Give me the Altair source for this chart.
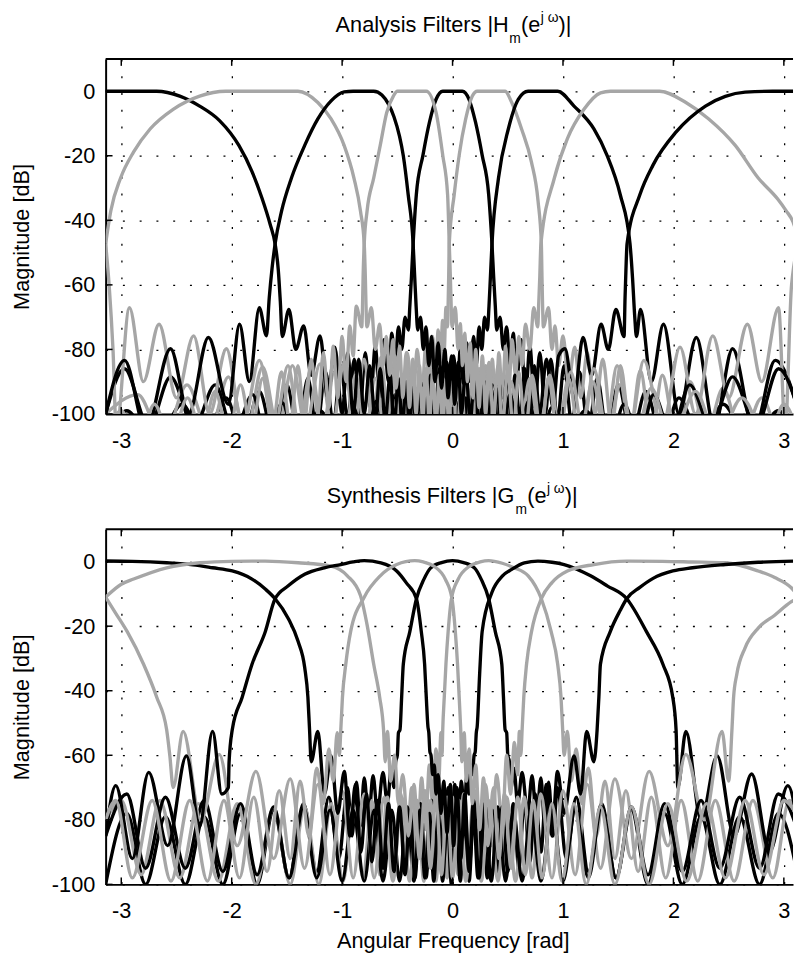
import altair as alt
import pandas as pd

FONT = "Liberation Sans"
INK = "#000000"
GREY = "#a6a6a6"

X_TICKS = [-3, -2, -1, 0, 1, 2, 3]
Y_TICKS = [-100, -80, -60, -40, -20, 0]
X_DOMAIN = [-3.1416, 3.083]
Y_DOMAIN = [-100, 10]

TITLE_TOP = ["Analysis Filters |H", "m", "(e", "j \u03c9", ")|"]
TITLE_BOTTOM = ["Synthesis Filters |G", "m", "(e", "j \u03c9", ")|"]
Y_TITLE = "Magnitude [dB]"
X_TITLE = "Angular Frequency [rad]"

# ---------------- Analysis filters (x in rad, magnitude in dB) ----------------
A0 = [(-3.1416,-110),(-2.95,-99),(-2.7,-110),(-2.45,-97),(-2.25,-108),(-2.05,-95),(-1.9,-108),(-1.75,-93),(-1.62,-107),(-1.50,-91),(-1.40,-106),(-1.31,-89),(-1.23,-105),(-1.15,-87),(-1.08,-103),(-1.01,-85),(-0.95,-102),(-0.89,-83),(-0.84,-100),(-0.79,-81),(-0.745,-98),(-0.70,-79),(-0.66,-95),(-0.62,-77),(-0.58,-90),(-0.55,-75),(-0.52,-85),(-0.49,-73),(-0.46,-80),(-0.43,-70),(-0.40,-74),(-0.387,-66.6),(-0.372,-57.4),(-0.357,-47.3),(-0.328,-32),(-0.268,-19.8),(-0.209,-9.6),(-0.149,-2.5),(-0.089,0),(0.089,0),(0.149,-2.5),(0.208,-9.6),(0.268,-19.8),(0.327,-32),(0.357,-47.3),(0.372,-57.4),(0.387,-66.6),(0.40,-74),(0.43,-70),(0.46,-80),(0.49,-73),(0.52,-85),(0.55,-75),(0.58,-90),(0.62,-77),(0.66,-95),(0.70,-79),(0.745,-98),(0.79,-81),(0.84,-100),(0.89,-83),(0.95,-102),(1.01,-85),(1.08,-103),(1.15,-87),(1.23,-105),(1.31,-89),(1.40,-106),(1.50,-91),(1.62,-107),(1.75,-93),(1.9,-108),(2.05,-95),(2.25,-108),(2.45,-97),(2.7,-110),(2.95,-99),(3.1416,-110)]
A1 = [(-3.1416,-100),(-2.85,-94),(-2.62,-108),(-2.405,-91),(-2.2,-106),(-2.03,-88.5),(-1.87,-106),(-1.72,-85.4),(-1.58,-105),(-1.45,-85),(-1.33,-104),(-1.2,-84.5),(-1.09,-104),(-0.98,-84),(-0.89,-104),(-0.80,-83),(-0.72,-103),(-0.65,-82.5),(-0.58,-102),(-0.52,-82),(-0.46,-100),(-0.41,-81),(-0.36,-98),(-0.32,-80),(-0.28,-95),(-0.24,-78),(-0.21,-92),(-0.18,-76),(-0.155,-88),(-0.13,-74),(-0.11,-84),(-0.09,-71),(-0.075,-80),(-0.06,-67),(-0.045,-73),(-0.04,-66),(-0.035,-57.4),(-0.03,-47.3),(0.015,-32),(0.06,-19.8),(0.119,-8.6),(0.179,-1.5),(0.223,0),(0.476,0),(0.536,-3.5),(0.625,-11.7),(0.714,-21.9),(0.774,-34),(0.804,-47.3),(0.81,-58),(0.815,-66),(0.822,-73),(0.869,-67.1),(0.90,-80),(0.928,-72.7),(0.96,-85),(1.0,-75.8),(1.05,-90),(1.107,-79.3),(1.16,-95),(1.22,-81),(1.29,-100),(1.36,-83),(1.44,-104),(1.52,-85),(1.61,-105),(1.70,-86.5),(1.8,-106),(1.90,-88),(2.02,-106),(2.15,-90),(2.3,-106),(2.45,-92),(2.62,-108),(2.8,-95),(2.98,-108),(3.1416,-100)]
A2 = [(-3.1416,-100),(-2.97,-86),(-2.75,-104),(-2.554,-88.5),(-2.34,-104),(-2.15,-91),(-1.98,-106),(-1.81,-94),(-1.69,-108),(-1.54,-96.6),(-1.42,-110),(-1.2,-99),(-1.0,-112),(-0.9,-98),(-0.79,-110),(-0.69,-96),(-0.6,-108),(-0.52,-94),(-0.455,-106),(-0.395,-92),(-0.34,-105),(-0.29,-90),(-0.245,-104),(-0.2,-88),(-0.16,-102),(-0.12,-86),(-0.08,-100),(-0.05,-84),(-0.02,-97),(0.01,-82),(0.04,-95),(0.07,-80),(0.10,-92),(0.13,-78),(0.16,-90),(0.19,-76),(0.215,-85),(0.24,-73),(0.265,-80),(0.29,-70),(0.315,-74),(0.33,-66.6),(0.343,-57.4),(0.357,-47.3),(0.416,-26.9),(0.505,-11.7),(0.595,-2.5),(0.684,0),(0.952,0),(1.10,-4.6),(1.28,-11.7),(1.398,-19.8),(1.518,-32),(1.607,-47.3),(1.63,-58),(1.65,-70),(1.665,-76),(1.702,-67.6),(1.80,-90),(1.91,-72.2),(2.05,-100),(2.208,-76.3),(2.37,-104),(2.536,-79.8),(2.73,-105),(2.922,-83.4),(3.1416,-100)]
A3 = [(-3.1416,-47.3),(-3.11,-60),(-3.075,-80),(-3.045,-105),(-2.926,-67.1),(-2.80,-90),(-2.658,-72.2),(-2.50,-95),(-2.345,-75.8),(-2.20,-100),(-2.048,-79.8),(-1.90,-104),(-1.75,-83.4),(-1.61,-104),(-1.49,-85),(-1.39,-104),(-1.28,-86),(-1.18,-105),(-1.07,-87),(-0.97,-106),(-0.88,-88),(-0.79,-106),(-0.70,-89),(-0.61,-106),(-0.53,-90),(-0.46,-108),(-0.39,-91),(-0.33,-108),(-0.27,-92),(-0.22,-108),(-0.17,-92),(-0.12,-108),(-0.08,-91),(-0.04,-107),(0.0,-90),(0.03,-106),(0.06,-89),(0.09,-105),(0.12,-88),(0.15,-104),(0.18,-87),(0.21,-103),(0.24,-86),(0.27,-102),(0.30,-85),(0.33,-100),(0.36,-83),(0.39,-98),(0.42,-81),(0.45,-95),(0.48,-79),(0.51,-92),(0.54,-77),(0.57,-88),(0.60,-76),(0.63,-85),(0.66,-72.2),(0.70,-80),(0.735,-67.1),(0.772,-73),(0.78,-66),(0.79,-57.4),(0.80,-47.3),(0.922,-26.9),(1.04,-14.7),(1.19,-5.6),(1.34,-0.5),(1.43,0),(1.875,0),(2.113,-3.5),(2.32,-8.6),(2.56,-16.8),(2.768,-26.9),(2.946,-33.5),(3.02,-37),(3.083,-40.5),(3.1416,-47.3)]
A4 = [(-3.1416,0),(-2.9,0),(-2.68,0),(-2.47,-1.5),(-2.29,-4.6),(-2.11,-9.1),(-1.935,-16.8),(-1.816,-24.9),(-1.727,-33.0),(-1.652,-41.2),(-1.607,-47.3),(-1.578,-55.4),(-1.56,-65),(-1.542,-76),(-1.482,-67.6),(-1.42,-80),(-1.348,-72.7),(-1.28,-88),(-1.20,-75.8),(-1.13,-95),(-1.066,-79.3),(-1.0,-100),(-0.95,-81),(-0.90,-100),(-0.85,-83),(-0.80,-100),(-0.75,-85),(-0.70,-102),(-0.655,-86),(-0.61,-102),(-0.565,-88),(-0.53,-104),(-0.49,-89),(-0.455,-104),(-0.42,-90),(-0.39,-105),(-0.36,-91),(-0.33,-105),(-0.30,-92),(-0.27,-106),(-0.24,-93),(-0.21,-106),(-0.18,-94),(-0.15,-107),(-0.12,-95),(-0.09,-108),(-0.06,-96),(-0.03,-108),(0.0,-97),(0.03,-108),(0.06,-96),(0.09,-108),(0.12,-95),(0.15,-107),(0.18,-94),(0.21,-106),(0.24,-93),(0.27,-106),(0.30,-92),(0.33,-105),(0.36,-91),(0.39,-105),(0.42,-90),(0.455,-104),(0.49,-89),(0.53,-104),(0.565,-88),(0.61,-102),(0.655,-86),(0.70,-102),(0.74,-85),(0.79,-100),(0.85,-83),(0.91,-98),(0.96,-82),(1.018,-79.8),(1.10,-95),(1.181,-76.3),(1.26,-88),(1.345,-72.2),(1.41,-80),(1.479,-67.6),(1.553,-76),(1.562,-64),(1.57,-55.4),(1.58,-47.3),(1.696,-32.1),(1.815,-22.9),(2.023,-12.7),(2.29,-4.6),(2.47,-1.6),(2.65,-0.3),(2.9,0),(3.1416,0)]
A5 = [(-3.1416,-47.3),(-3.095,-37.1),(-3.006,-26.9),(-2.888,-18.8),(-2.739,-11.7),(-2.53,-5.6),(-2.29,-1.5),(-2.054,0),(-1.40,0),(-1.22,-3.5),(-1.10,-8.6),(-0.982,-16.8),(-0.893,-26.9),(-0.834,-37.1),(-0.80,-47.3),(-0.79,-57.4),(-0.784,-66),(-0.776,-73),(-0.735,-67.1),(-0.70,-80),(-0.66,-72.2),(-0.63,-85),(-0.60,-76),(-0.57,-88),(-0.54,-77),(-0.51,-92),(-0.48,-79),(-0.45,-95),(-0.42,-81),(-0.39,-98),(-0.36,-83),(-0.33,-100),(-0.30,-85),(-0.27,-102),(-0.24,-86),(-0.21,-103),(-0.18,-87),(-0.15,-104),(-0.12,-88),(-0.09,-105),(-0.06,-89),(-0.03,-106),(0.0,-90),(0.04,-107),(0.08,-91),(0.12,-108),(0.17,-92),(0.22,-108),(0.27,-92),(0.33,-108),(0.39,-91),(0.46,-108),(0.53,-90),(0.61,-106),(0.70,-89),(0.79,-106),(0.88,-88),(0.97,-106),(1.07,-87),(1.18,-105),(1.28,-86),(1.39,-104),(1.49,-85),(1.61,-104),(1.732,-83.4),(1.90,-104),(2.06,-79.3),(2.20,-100),(2.357,-75.8),(2.50,-95),(2.67,-72.2),(2.80,-90),(2.952,-67.1),(3.012,-105),(3.07,-60),(3.1416,-47.3)]
A6 = [(-3.1416,-100),(-2.97,-83.4),(-2.777,-105),(-2.554,-79.8),(-2.39,-100),(-2.211,-76.3),(-2.03,-97),(-1.929,-72.2),(-1.84,-90),(-1.75,-67.1),(-1.685,-75.8),(-1.66,-64),(-1.635,-55),(-1.607,-47.3),(-1.548,-37.1),(-1.459,-26.9),(-1.339,-16.8),(-1.22,-8.6),(-1.10,-3.0),(-0.982,-0.2),(-0.9,0),(-0.714,0),(-0.64,-1.2),(-0.58,-4),(-0.53,-8),(-0.48,-14),(-0.446,-20),(-0.402,-32),(-0.357,-47.3),(-0.343,-57.4),(-0.33,-66.6),(-0.315,-74),(-0.29,-70),(-0.265,-80),(-0.24,-73),(-0.215,-85),(-0.19,-76),(-0.16,-90),(-0.13,-78),(-0.10,-92),(-0.07,-80),(-0.04,-95),(-0.01,-82),(0.02,-97),(0.05,-84),(0.08,-100),(0.12,-86),(0.16,-102),(0.2,-88),(0.245,-104),(0.29,-90),(0.34,-105),(0.395,-92),(0.455,-106),(0.52,-94),(0.6,-108),(0.69,-96),(0.79,-110),(0.9,-98),(1.0,-112),(1.2,-99),(1.42,-110),(1.553,-97),(1.69,-108),(1.821,-94),(1.98,-106),(2.148,-91),(2.34,-104),(2.536,-88.5),(2.75,-104),(2.952,-86),(3.1416,-100)]
A7 = [(-3.1416,-108),(-3.0,-99),(-2.85,-110),(-2.7,-97),(-2.55,-108),(-2.4,-95),(-2.27,-106),(-2.15,-93),(-2.03,-106),(-1.92,-91),(-1.82,-105),(-1.72,-89),(-1.63,-104),(-1.55,-87),(-1.47,-103),(-1.40,-85),(-1.34,-102),(-1.28,-83),(-1.22,-100),(-1.17,-81),(-1.12,-98),(-1.08,-79),(-1.04,-95),(-1.0,-76),(-0.965,-90),(-0.93,-72.7),(-0.90,-82),(-0.872,-66.6),(-0.822,-73),(-0.815,-66),(-0.81,-57.4),(-0.80,-47.3),(-0.774,-37.1),(-0.714,-26.9),(-0.655,-16.8),(-0.596,-6.6),(-0.536,-1.5),(-0.50,0),(-0.238,0),(-0.149,-6.6),(-0.089,-19.8),(-0.045,-32),(-0.03,-47.3),(-0.02,-57.4),(-0.013,-66),(-0.005,-73),(0.025,-67),(0.05,-80),(0.07,-72),(0.09,-85),(0.11,-75),(0.135,-90),(0.16,-78),(0.185,-95),(0.21,-80),(0.24,-98),(0.27,-82),(0.30,-100),(0.33,-84),(0.37,-102),(0.41,-85),(0.45,-104),(0.50,-86),(0.55,-105),(0.60,-87),(0.66,-106),(0.72,-88),(0.80,-106),(0.87,-88.5),(0.95,-107),(1.05,-89),(1.15,-107),(1.27,-90),(1.39,-108),(1.52,-91),(1.65,-108),(1.8,-92),(1.98,-108),(2.2,-93),(2.4,-108),(2.62,-95),(2.85,-108),(3.0,-97),(3.1416,-108)]

# ---------------- Synthesis filters ----------------
S0 = [(-3.1416,-100),(-2.95,-78),(-2.78,-100),(-2.6,-79),(-2.42,-100),(-2.25,-79),(-2.08,-100),(-1.92,-78),(-1.77,-100),(-1.62,-77),(-1.48,-98),(-1.35,-75),(-1.23,-96),(-1.12,-73),(-1.03,-92),(-0.95,-70),(-0.91,-85),(-0.87,-68.3),(-0.835,-82),(-0.8,-67),(-0.76,-80),(-0.72,-66.3),(-0.68,-78),(-0.63,-65.3),(-0.59,-75),(-0.555,-64),(-0.53,-70),(-0.515,-62),(-0.50,-60),(-0.49,-53),(-0.476,-52.1),(-0.461,-42),(-0.446,-31.8),(-0.387,-21.7),(-0.327,-11.5),(-0.26,-5.5),(-0.2,-2.0),(-0.1,-0.3),(0,0.3),(0.1,-0.3),(0.2,-2.0),(0.26,-5.5),(0.327,-11.5),(0.387,-21.7),(0.446,-31.8),(0.461,-42),(0.476,-52.1),(0.49,-53),(0.50,-60),(0.515,-62),(0.53,-70),(0.555,-64),(0.59,-75),(0.63,-65.3),(0.68,-78),(0.72,-66.3),(0.76,-80),(0.8,-67),(0.835,-82),(0.87,-68.3),(0.91,-85),(0.95,-70),(1.03,-92),(1.12,-73),(1.23,-96),(1.35,-75),(1.48,-98),(1.62,-77),(1.77,-100),(1.92,-78),(2.08,-100),(2.25,-79),(2.42,-100),(2.6,-79),(2.78,-100),(2.95,-78),(3.1416,-100)]
S1 = [(-3.1416,-80),(-3.0,-74),(-2.82,-97),(-2.65,-74),(-2.47,-98),(-2.3,-75),(-2.12,-99),(-1.95,-75),(-1.78,-100),(-1.62,-76),(-1.47,-100),(-1.34,-76),(-1.21,-100),(-1.1,-75),(-0.99,-99),(-0.9,-75),(-0.81,-98),(-0.73,-74),(-0.66,-97),(-0.59,-73),(-0.53,-95),(-0.47,-72),(-0.42,-92),(-0.37,-70),(-0.32,-88),(-0.28,-67),(-0.245,-83),(-0.21,-63),(-0.18,-75),(-0.15,-58),(-0.125,-68),(-0.105,-53),(-0.095,-60),(-0.089,-52.1),(-0.075,-42),(-0.06,-31.8),(-0.04,-21.7),(-0.01,-11.5),(0.05,-5.5),(0.15,-1.5),(0.25,-0.1),(0.327,0.3),(0.45,-0.5),(0.55,-1.8),(0.685,-4.4),(0.804,-11.5),(0.893,-21.7),(0.952,-31.8),(0.982,-42),(0.997,-52.1),(1.01,-60),(1.04,-52.6),(1.075,-68),(1.12,-58),(1.17,-75),(1.23,-64),(1.30,-85),(1.38,-68),(1.47,-92),(1.57,-71),(1.68,-96),(1.8,-73),(1.93,-98),(2.07,-74),(2.22,-99),(2.38,-74),(2.55,-99),(2.72,-74),(2.9,-98),(3.05,-74),(3.1416,-80)]
S2 = [(-3.1416,-85),(-2.95,-72),(-2.78,-95),(-2.6,-73),(-2.42,-95),(-2.25,-74),(-2.08,-96),(-1.92,-75),(-1.77,-97),(-1.62,-76),(-1.48,-98),(-1.35,-76),(-1.23,-98),(-1.11,-77),(-1.0,-99),(-0.9,-77),(-0.8,-99),(-0.71,-77),(-0.63,-99),(-0.55,-77),(-0.48,-99),(-0.41,-76),(-0.35,-99),(-0.29,-75),(-0.24,-98),(-0.19,-74),(-0.15,-96),(-0.11,-72),(-0.075,-92),(-0.04,-70),(-0.01,-88),(0.02,-69),(0.05,-84),(0.08,-68),(0.105,-78),(0.13,-66),(0.15,-72),(0.165,-63),(0.18,-66),(0.195,-60),(0.205,-59),(0.215,-53),(0.223,-51.1),(0.245,-35),(0.268,-21.7),(0.357,-9.5),(0.45,-4.5),(0.536,-2.4),(0.65,-0.4),(0.773,0.15),(0.9,-0.2),(1.01,-0.9),(1.25,-4.4),(1.40,-7.5),(1.577,-11.5),(1.756,-21.7),(1.905,-31.8),(1.994,-42),(2.024,-52.1),(2.04,-70),(2.113,-52.6),(2.25,-80),(2.396,-60.2),(2.55,-85),(2.708,-65.8),(2.87,-90),(3.036,-69.4),(3.1416,-85)]
S3 = [(-3.1416,-11),(-3.05,-16),(-2.946,-21.7),(-2.798,-31.8),(-2.679,-42),(-2.589,-52.1),(-2.56,-60.2),(-2.53,-70),(-2.44,-52.6),(-2.28,-80),(-2.113,-59.7),(-1.95,-88),(-1.78,-65),(-1.62,-92),(-1.47,-67.3),(-1.34,-95),(-1.22,-69),(-1.11,-97),(-1.0,-71),(-0.9,-98),(-0.8,-72),(-0.71,-98),(-0.62,-73),(-0.54,-99),(-0.46,-73),(-0.39,-99),(-0.32,-74),(-0.26,-99),(-0.2,-74),(-0.15,-99),(-0.1,-74),(-0.05,-98),(0.0,-73),(0.05,-97),(0.1,-72),(0.15,-95),(0.2,-71),(0.25,-92),(0.3,-69),(0.35,-88),(0.40,-66),(0.45,-82),(0.49,-60),(0.525,-72),(0.56,-56),(0.59,-66),(0.605,-52.6),(0.618,-60),(0.63,-52.1),(0.645,-42),(0.67,-31.8),(0.715,-21.7),(0.804,-11.5),(0.9,-6.5),(1.04,-2.9),(1.28,-0.9),(1.577,0.15),(1.9,0.1),(2.17,-0.1),(2.47,-0.35),(2.768,-2.9),(2.917,-4.9),(3.065,-8),(3.1416,-11)]
S4 = [(-3.1416,0.2),(-2.9,0.1),(-2.589,-0.35),(-2.35,-1.0),(-2.173,-1.9),(-1.995,-2.9),(-1.816,-5.4),(-1.696,-8.5),(-1.607,-11.5),(-1.488,-17.6),(-1.399,-24.7),(-1.339,-32.8),(-1.31,-42),(-1.295,-52.1),(-1.28,-62),(-1.22,-52.6),(-1.16,-72),(-1.10,-60.2),(-1.04,-78),(-0.98,-65),(-0.93,-85),(-0.88,-69),(-0.83,-90),(-0.78,-72),(-0.73,-93),(-0.68,-74),(-0.63,-95),(-0.58,-75),(-0.53,-96),(-0.48,-76),(-0.43,-97),(-0.385,-77),(-0.34,-98),(-0.295,-77),(-0.25,-98),(-0.21,-78),(-0.17,-99),(-0.13,-78),(-0.09,-99),(-0.05,-79),(-0.01,-100),(0.03,-79),(0.07,-99),(0.11,-78),(0.15,-99),(0.19,-78),(0.23,-98),(0.27,-77),(0.315,-98),(0.36,-77),(0.405,-97),(0.45,-76),(0.5,-96),(0.55,-75),(0.6,-95),(0.65,-74),(0.7,-93),(0.75,-72),(0.8,-90),(0.85,-69),(0.9,-85),(0.95,-65),(1.01,-78),(1.10,-60.2),(1.16,-72),(1.214,-52.6),(1.28,-62),(1.309,-52.1),(1.325,-42),(1.339,-31.8),(1.428,-21.7),(1.52,-15),(1.577,-11.5),(1.696,-8.0),(1.816,-5.2),(1.995,-2.9),(2.173,-1.9),(2.47,-0.9),(2.768,-0.2),(3.1416,0.2)]
S5 = [(-3.1416,-11),(-3.0,-7),(-2.888,-5.4),(-2.589,-1.9),(-2.29,-0.35),(-2.0,0.1),(-1.696,0.15),(-1.399,-0.35),(-1.10,-1.4),(-0.953,-4.4),(-0.834,-10.5),(-0.774,-19.6),(-0.714,-31.8),(-0.66,-42),(-0.625,-52.1),(-0.61,-62),(-0.59,-52.6),(-0.56,-68),(-0.525,-60),(-0.49,-75),(-0.45,-66),(-0.40,-85),(-0.35,-69),(-0.3,-92),(-0.25,-71),(-0.2,-95),(-0.15,-72),(-0.1,-97),(-0.05,-73),(0.0,-98),(0.06,-74),(0.12,-99),(0.19,-74),(0.26,-99),(0.33,-74),(0.41,-99),(0.49,-73),(0.57,-99),(0.65,-73),(0.72,-98),(0.8,-72),(0.9,-98),(1.0,-71),(1.11,-97),(1.22,-69),(1.34,-95),(1.47,-67.3),(1.62,-92),(1.78,-65),(1.95,-88),(2.113,-59.7),(2.28,-80),(2.44,-52.6),(2.50,-68),(2.53,-52.1),(2.545,-42),(2.574,-34.9),(2.649,-26.7),(2.768,-20.6),(2.917,-16.6),(3.065,-12.5),(3.1416,-11)]
S6 = [(-3.1416,-85),(-3.05,-69.4),(-2.9,-92),(-2.752,-65.3),(-2.58,-88),(-2.41,-60.2),(-2.29,-82),(-2.173,-52.6),(-2.09,-72),(-2.03,-70),(-2.024,-62.3),(-1.995,-52.1),(-1.905,-42),(-1.816,-31.8),(-1.696,-21.7),(-1.607,-11.5),(-1.488,-7.5),(-1.339,-3.9),(-1.161,-1.9),(-1.012,-0.9),(-0.9,-0.1),(-0.80,0.3),(-0.649,-0.4),(-0.506,-2.9),(-0.42,-6.5),(-0.327,-11.5),(-0.283,-21.7),(-0.253,-31.8),(-0.238,-42),(-0.223,-51.1),(-0.215,-53),(-0.205,-59),(-0.195,-60),(-0.18,-66),(-0.165,-63),(-0.15,-72),(-0.13,-66),(-0.105,-78),(-0.08,-68),(-0.05,-84),(-0.02,-69),(0.01,-88),(0.04,-70),(0.075,-92),(0.11,-72),(0.15,-96),(0.19,-74),(0.24,-98),(0.29,-75),(0.35,-99),(0.41,-76),(0.48,-99),(0.55,-77),(0.63,-99),(0.71,-77),(0.8,-99),(0.9,-77),(1.0,-99),(1.11,-77),(1.23,-98),(1.35,-76),(1.48,-98),(1.62,-76),(1.77,-97),(1.92,-75),(2.08,-96),(2.25,-74),(2.42,-95),(2.6,-73),(2.78,-95),(2.95,-72),(3.1416,-85)]
S7 = [(-3.1416,-80),(-3.05,-74),(-2.9,-98),(-2.72,-74),(-2.55,-99),(-2.38,-74),(-2.22,-99),(-2.07,-74),(-1.93,-98),(-1.8,-73),(-1.68,-96),(-1.57,-71),(-1.47,-92),(-1.38,-68),(-1.30,-85),(-1.23,-64),(-1.17,-75),(-1.12,-58),(-1.08,-68),(-1.045,-53),(-1.025,-60),(-1.012,-52.1),(-0.997,-42),(-0.967,-31.8),(-0.923,-21.7),(-0.80,-11),(-0.655,-4.4),(-0.506,-0.9),(-0.342,0.3),(-0.265,-0.1),(-0.165,-1.5),(-0.065,-5.5),(-0.005,-11.5),(0.025,-21.7),(0.045,-31.8),(0.06,-42),(0.074,-52.1),(0.085,-62),(0.105,-53),(0.125,-68),(0.15,-58),(0.18,-75),(0.21,-63),(0.245,-83),(0.28,-67),(0.32,-88),(0.37,-70),(0.42,-92),(0.47,-72),(0.53,-95),(0.59,-73),(0.66,-97),(0.73,-74),(0.81,-98),(0.9,-75),(0.99,-99),(1.1,-75),(1.21,-100),(1.34,-76),(1.47,-100),(1.62,-76),(1.78,-100),(1.95,-75),(2.12,-99),(2.3,-75),(2.47,-98),(2.65,-74),(2.82,-97),(3.0,-74),(3.1416,-80)]

ANALYSIS = [A0, A1, A2, A3, A4, A5, A6, A7]
SYNTHESIS = [S0, S1, S2, S3, S4, S5, S6, S7]

PLOT_W = 697
PLOT_H = 360

x_scale = alt.Scale(domain=X_DOMAIN, nice=False, zero=False)
y_scale = alt.Scale(domain=Y_DOMAIN, nice=False, zero=False)
LABEL_EXPR = "datum.value + ''"
AX_TEXT = dict(labelFont=FONT, titleFont=FONT, labelFontSize=22, titleFontSize=22,
               titleFontWeight="normal", labelColor=INK, titleColor=INK)


def panel(curves, title_parts, title_pos, x_title):
    x_axis = alt.Axis(values=X_TICKS, labelExpr=LABEL_EXPR, grid=True, gridDash=[2, 15],
                      gridColor=INK, gridWidth=1.3, ticks=False, tickSize=0, labelPadding=17,
                      domain=True, domainColor=INK, domainWidth=2,
                      title=x_title if x_title else "", titlePadding=9, titleX=352, **AX_TEXT)
    y_axis = alt.Axis(values=Y_TICKS, labelExpr=LABEL_EXPR, grid=True, gridDash=[2, 15],
                      gridColor=INK, gridWidth=1.3, ticks=False, tickSize=0, labelPadding=11,
                      domain=True, domainColor=INK, domainWidth=2,
                      title=Y_TITLE, titlePadding=18, **AX_TEXT)
    X = lambda f: alt.X(f, scale=x_scale, axis=x_axis)
    Y = lambda f: alt.Y(f, scale=y_scale, axis=y_axis)
    layers = []
    for i, pts in enumerate(curves):
        df = pd.DataFrame(pts, columns=["w", "db"])
        layers.append(
            alt.Chart(df).mark_line(clip=True, interpolate="monotone",
                                    color=INK if i % 2 == 0 else GREY,
                                    strokeWidth=3.4, strokeJoin="round")
            .encode(x=X("w:Q"), y=Y("db:Q"))
        )
    xt = pd.DataFrame({"w": X_TICKS})
    yt = pd.DataFrame({"db": Y_TICKS})
    tick_style = dict(color=INK, strokeWidth=1.5)
    layers.append(alt.Chart(xt).mark_rule(**tick_style).encode(
        x=X("w:Q"), y=alt.value(0), y2=alt.value(7)))
    layers.append(alt.Chart(xt).mark_rule(**tick_style).encode(
        x=X("w:Q"), y=alt.value(PLOT_H - 7), y2=alt.value(PLOT_H)))
    layers.append(alt.Chart(yt).mark_rule(**tick_style).encode(
        y=Y("db:Q"), x=alt.value(0), x2=alt.value(7)))
    layers.append(alt.Chart(xt.head(1)).mark_rule(color=INK, strokeWidth=2).encode(
        x=alt.value(0), x2=alt.value(PLOT_W), y=alt.value(0)))
    for txt, (px, py, fs) in zip(title_parts, title_pos):
        layers.append(alt.Chart(pd.DataFrame({"s": [txt]})).mark_text(
            align="left", baseline="alphabetic", font=FONT, fontSize=fs, fill=INK).encode(
            x=alt.value(px), y=alt.value(py), text="s:N"))
    return alt.layer(*layers).properties(width=PLOT_W, height=PLOT_H)


TOP_POS = [(233.2, -27.3, 22), (409.2, -16.3, 14), (421.2, -27.3, 22), (441.2, -37.3, 14), (459.2, -27.3, 22)]
BOT_POS = [(224.2, -26.6, 22), (415.5, -15.6, 14), (427.5, -26.6, 22), (447.5, -36.6, 14), (465.5, -26.6, 22)]

top = panel(ANALYSIS, TITLE_TOP, TOP_POS, None)
bottom = panel(SYNTHESIS, TITLE_BOTTOM, BOT_POS, X_TITLE)

chart = alt.vconcat(top, bottom, spacing=31).properties(
    padding={"left": 2, "right": 0, "top": -4, "bottom": 0},
    background="white"
).configure_view(stroke=None)

chart.save("out.html", embed_options={"renderer": "svg", "actions": False})
